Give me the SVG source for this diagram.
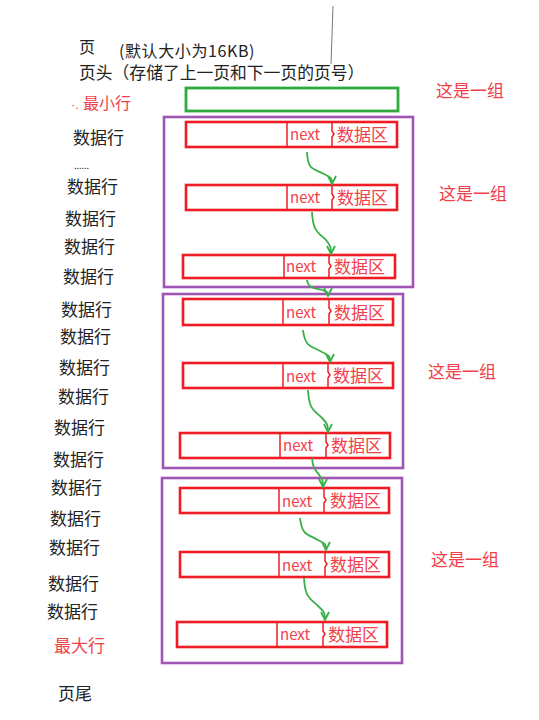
<svg xmlns="http://www.w3.org/2000/svg" width="539" height="720" viewBox="0 0 539 720">
<defs>
<style>
.t{font-family:"Noto Sans CJK SC","Noto Sans",sans-serif;fill:#222}
.r{font-family:"Noto Sans CJK SC","Noto Sans",sans-serif;fill:#f2404a}
.row{fill:#fff;stroke:#f01c24;stroke-width:2.6}
.div{stroke:#f01c24;stroke-width:1.5;fill:none}
.grp{fill:none;stroke:#a054b4;stroke-width:2.6}
.arr{fill:none;stroke:#38b048;stroke-width:1.8;marker-end:url(#ah)}
.nx{font-size:15px}
.dz{font-size:17px}
</style>
<marker id="ah" viewBox="0 0 10 10" refX="9" refY="5" markerWidth="10" markerHeight="10" markerUnits="userSpaceOnUse" orient="auto">
<path d="M1,1 L9,5 L1,9" fill="none" stroke="#38b048" stroke-width="1.8"/>
</marker>
</defs>
<rect width="539" height="720" fill="#fff"/>
<line x1="333" y1="6" x2="331" y2="64" stroke="#777" stroke-width="1"/>
<text class="t" x="79" y="53" font-size="16">页</text>
<text class="t" x="119" y="57" font-size="16" letter-spacing="0.6">(默认大小为16KB)</text>
<text class="t" x="79" y="79" font-size="16.8">页头（存储了上一页和下一页的页号）</text>
<g id="minrow"><rect x="186" y="88" width="212" height="23" fill="none" stroke="#2eaa3e" stroke-width="2.8"/></g>
<text class="r" x="71" y="109" font-size="16"><tspan font-family="Liberation Sans" font-size="13">·.</tspan><tspan x="83">最小行</tspan></text>
<g id="labels" class="t" font-size="17">
<text x="73" y="144">数据行</text>
<text x="74" y="169" font-size="9">......</text>
<text x="67" y="193">数据行</text>
<text x="65" y="225">数据行</text>
<text x="64" y="253">数据行</text>
<text x="63" y="283">数据行</text>
<text x="61" y="316">数据行</text>
<text x="60" y="343">数据行</text>
<text x="59" y="374">数据行</text>
<text x="58" y="403">数据行</text>
<text x="54" y="434">数据行</text>
<text x="53" y="466">数据行</text>
<text x="51" y="494">数据行</text>
<text x="50" y="525">数据行</text>
<text x="49" y="554">数据行</text>
<text x="48" y="590">数据行</text>
<text x="47" y="618">数据行</text>
<text x="54" y="652" fill="#f2404a">最大行</text>
<text x="58" y="700">页尾</text>
</g>
<g id="group1"><rect class="grp" x="164" y="117" width="249" height="170"/><text class="r" x="436" y="97" font-size="17">这是一组</text><text class="r" x="439" y="200" font-size="17">这是一组</text></g>
<g id="group2"><rect class="grp" x="163" y="294" width="240" height="174"/><text class="r" x="428" y="378" font-size="17">这是一组</text></g>
<g id="group3"><rect class="grp" x="162" y="478" width="240" height="185"/><text class="r" x="431" y="566" font-size="17">这是一组</text></g>
<g id="row1"><rect class="row" x="186" y="122" width="211" height="25"/><line class="div" x1="287" y1="122" x2="287" y2="147"/><path class="div" d="M332,122 L332,131 L334,134 L332,137 L332,147"/><text class="r nx" x="290" y="140">next</text><text class="r dz" x="337" y="141">数据区</text></g>
<g id="row2"><rect class="row" x="186" y="185" width="211" height="25"/><line class="div" x1="287" y1="185" x2="287" y2="210"/><path class="div" d="M332,185 L332,194 L334,197 L332,200 L332,210"/><text class="r nx" x="290" y="203">next</text><text class="r dz" x="337" y="204">数据区</text></g>
<g id="row3"><rect class="row" x="183" y="255" width="212" height="23"/><line class="div" x1="284" y1="255" x2="284" y2="278"/><path class="div" d="M329,255 L329,263 L331,266 L329,269 L329,278"/><text class="r nx" x="286" y="272">next</text><text class="r dz" x="334" y="273">数据区</text></g>
<g id="row4"><rect class="row" x="183" y="299" width="210" height="26"/><line class="div" x1="283" y1="299" x2="283" y2="325"/><path class="div" d="M329,299 L329,308 L331,311 L329,314 L329,325"/><text class="r nx" x="286" y="318">next</text><text class="r dz" x="334" y="319">数据区</text></g>
<g id="row5"><rect class="row" x="183" y="363" width="210" height="25"/><line class="div" x1="283" y1="363" x2="283" y2="388"/><path class="div" d="M328,363 L328,372 L330,375 L328,378 L328,388"/><text class="r nx" x="286" y="382">next</text><text class="r dz" x="333" y="382">数据区</text></g>
<g id="row6"><rect class="row" x="180" y="433" width="210" height="25"/><line class="div" x1="280" y1="433" x2="280" y2="458"/><path class="div" d="M326,433 L326,442 L328,445 L326,448 L326,458"/><text class="r nx" x="283" y="451">next</text><text class="r dz" x="331" y="452">数据区</text></g>
<g id="row7"><rect class="row" x="180" y="488" width="209" height="25"/><line class="div" x1="279" y1="488" x2="279" y2="513"/><path class="div" d="M324,488 L324,497 L326,500 L324,503 L324,513"/><text class="r nx" x="282" y="507">next</text><text class="r dz" x="330" y="507">数据区</text></g>
<g id="row8"><rect class="row" x="180" y="552" width="209" height="25"/><line class="div" x1="279" y1="552" x2="279" y2="577"/><path class="div" d="M325,552 L325,561 L327,564 L325,567 L325,577"/><text class="r nx" x="282" y="571">next</text><text class="r dz" x="330" y="571">数据区</text></g>
<g id="row9"><rect class="row" x="177" y="622" width="210" height="25"/><line class="div" x1="277" y1="622" x2="277" y2="647"/><path class="div" d="M323,622 L323,631 L325,634 L323,637 L323,647"/><text class="r nx" x="280" y="640">next</text><text class="r dz" x="328" y="641">数据区</text></g>
<g id="connectors">
<path class="arr" d="M307,152 C308,170 312,168 324,174 C332,178 332,178 332,184"/>
<path class="arr" d="M312,212 C313,232 318,232 326,240 C331,246 331,248 331,254"/>
<path class="arr" d="M307,280 C308,288 314,288 322,290 C328,292 328,292 328,296"/>
<path class="arr" d="M303,330 C305,348 312,346 322,352 C330,356 330,356 330,362"/>
<path class="arr" d="M308,390 C309,410 314,410 322,418 C328,424 328,426 328,432"/>
<path class="arr" d="M312,458 C313,470 316,470 320,476 C323,480 323,482 323,487"/>
<path class="arr" d="M300,518 C302,536 308,534 318,540 C326,544 326,544 326,550"/>
<path class="arr" d="M304,578 C305,598 310,598 318,606 C325,612 325,614 325,620"/>
</g>
</svg>
